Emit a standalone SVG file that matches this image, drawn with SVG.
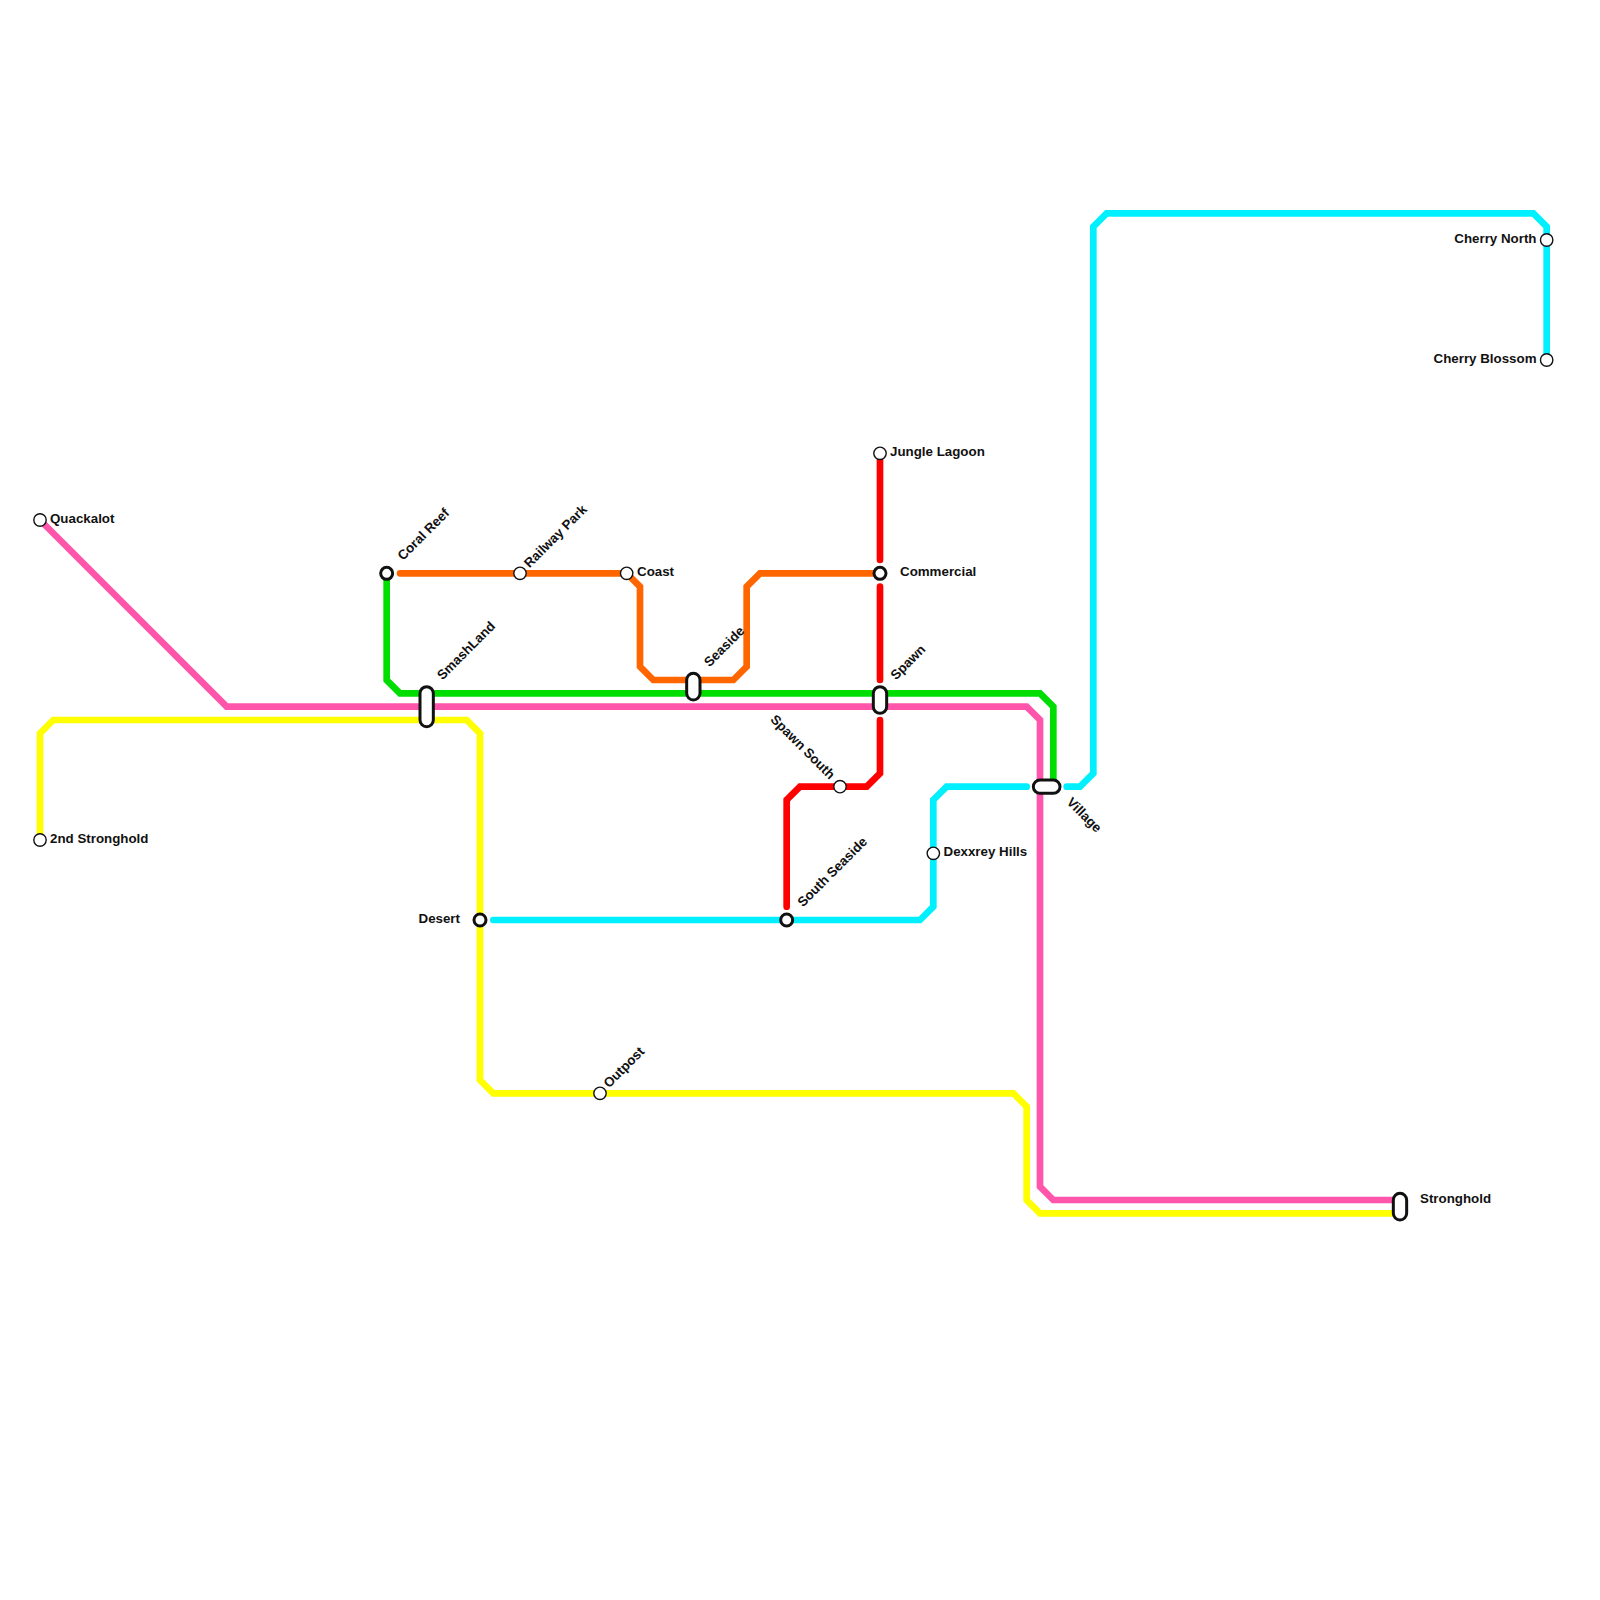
<svg xmlns="http://www.w3.org/2000/svg" width="1600" height="1600" viewBox="0 0 1600 1600">
<style>
.l{fill:none;stroke-width:6.67;stroke-linejoin:miter;stroke-linecap:round}
.o{stroke:#ff6600}.g{stroke:#00dd00}.p{stroke:#ff55aa}.y{stroke:#ffff00}.c{stroke:#00f0ff}.r{stroke:#ff0000}
.s{fill:#fff;stroke:#111;stroke-width:1.4}
.i{fill:#fff;stroke:#111;stroke-width:3}
text{font-family:"Liberation Sans",Arial,sans-serif;font-weight:bold;font-size:13.33px;fill:#111}
.e{text-anchor:end}
</style>
<rect width="1600" height="1600" fill="#fff"/>
<g id="connectors">
<path class="l p" d="M40 520L226.67 706.67H1026.67L1040 720V1186.67L1053.33 1200H1400"/>
<path class="l y" d="M40 840V733.33L53.33 720H466.67L480 733.33V1080L493.33 1093.33H1013.33L1026.67 1106.67V1200L1040 1213.33H1400"/>
<path class="l g" d="M386.67 573.33V680L400 693.33H1040L1053.33 706.67V786.67"/>
<path class="l o" d="M400 573.33H626.67L640 586.67V666.67L653.33 680H733.33L746.67 666.67V586.67L760 573.33H880"/>
<path class="l c" d="M493.33 920H920L933.33 906.67V800L946.67 786.67H1026.67"/>
<path class="l c" d="M1066.67 786.67H1080L1093.33 773.33V226.67L1106.67 213.33H1533.33L1546.67 226.67V360"/>
<path class="l r" d="M880 453.33V560"/>
<path class="l r" d="M880 586.67V680"/>
<path class="l r" d="M880 720V773.33L866.67 786.67H800L786.67 800V906.67"/>
</g>
<g id="quackalot"><circle class="s" cx="40" cy="520" r="6.2"/><text x="50" y="523">Quackalot</text></g>
<g id="second-stronghold"><circle class="s" cx="40" cy="840" r="6.2"/><text x="50" y="843">2nd Stronghold</text></g>
<g id="coral-reef"><circle class="i" cx="386.67" cy="573.33" r="6"/><text transform="translate(403 561) rotate(-45)">Coral Reef</text></g>
<g id="railway-park"><circle class="s" cx="520" cy="573.33" r="6.2"/><text transform="translate(529.5 568.5) rotate(-45)">Railway Park</text></g>
<g id="coast"><circle class="s" cx="626.67" cy="573.33" r="6.2"/><text x="637" y="576">Coast</text></g>
<g id="smashland"><rect class="i" x="420" y="686.67" width="13.33" height="40" rx="6.67"/><text transform="translate(442.5 680.5) rotate(-45)">SmashLand</text></g>
<g id="seaside"><rect class="i" x="686.67" y="673.33" width="13.33" height="26.67" rx="6.67"/><text transform="translate(709.5 667.5) rotate(-45)">Seaside</text></g>
<g id="jungle-lagoon"><circle class="s" cx="880" cy="453.33" r="6.2"/><text x="890" y="456">Jungle Lagoon</text></g>
<g id="commercial"><circle class="i" cx="880" cy="573.33" r="6"/><text x="900" y="576">Commercial</text></g>
<g id="spawn"><rect class="i" x="873.33" y="686.67" width="13.33" height="26.67" rx="6.67"/><text transform="translate(896 680.5) rotate(-45)">Spawn</text></g>
<g id="spawn-south"><circle class="s" cx="840" cy="786.67" r="6.2"/><text class="e" transform="translate(829.5 780) rotate(45)">Spawn South</text></g>
<g id="south-seaside"><circle class="i" cx="786.67" cy="920" r="6"/><text transform="translate(803 907.5) rotate(-45)">South Seaside</text></g>
<g id="dexxrey-hills"><circle class="s" cx="933.33" cy="853.33" r="6.2"/><text x="943.5" y="856">Dexxrey Hills</text></g>
<g id="village"><rect class="i" x="1033.33" y="780" width="26.67" height="13.33" rx="6.67"/><text transform="translate(1066 803) rotate(45)">Village</text></g>
<g id="desert"><circle class="i" cx="480" cy="920" r="6"/><text class="e" x="460" y="923">Desert</text></g>
<g id="outpost"><circle class="s" cx="600" cy="1093.33" r="6.2"/><text transform="translate(609 1088.5) rotate(-45)">Outpost</text></g>
<g id="stronghold"><rect class="i" x="1393.33" y="1193.33" width="13.33" height="26.67" rx="6.67"/><text x="1420" y="1203">Stronghold</text></g>
<g id="cherry-north"><circle class="s" cx="1546.67" cy="240" r="6.2"/><text class="e" x="1536.5" y="243">Cherry North</text></g>
<g id="cherry-blossom"><circle class="s" cx="1546.67" cy="360" r="6.2"/><text class="e" x="1536.5" y="363">Cherry Blossom</text></g>
</svg>
